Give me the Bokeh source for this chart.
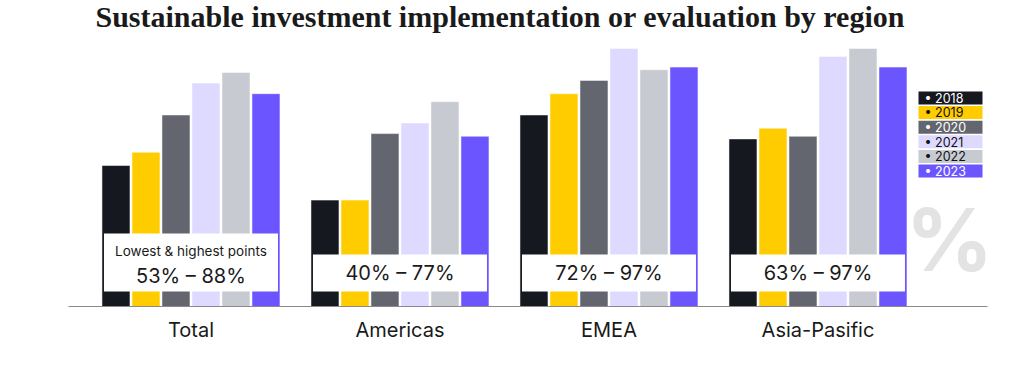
from bokeh.plotting import figure
from bokeh.models import Range1d, FixedTicker, ColumnDataSource, Label
from bokeh.core.properties import value
from bokeh.embed import file_html
from bokeh.resources import INLINE

# ---------------- data ----------------
regions = ["Total", "Americas", "EMEA", "Asia-Pasific"]
years = ["2018", "2019", "2020", "2021", "2022", "2023"]
v2018 = [53, 40, 72, 63]
v2019 = [58, 40, 80, 67]
v2020 = [72, 65, 85, 64]
v2021 = [84, 69, 97, 94]
v2022 = [88, 77, 89, 97]
v2023 = [80, 64, 90, 90]
series = [v2018, v2019, v2020, v2021, v2022, v2023]
colors = ["#16181f", "#ffcc00", "#63666e", "#dedaff", "#c8cad1", "#6b55ff"]
legend_text_colors = ["#ffffff", "#111111", "#ffffff", "#111111", "#111111", "#ffffff"]
title = "Sustainable investment implementation or evaluation by region"
box_caption = "Lowest & highest points"

# ---------------- layout helpers (page px -> data units) ----------------
FRAME_L, FRAME_R = 68, 987
FRAME_T, FRAME_B = 0, 306
X_LO = -0.586
PX_PER_X = 209.0
PX_PER_Y = 2.66
Y_HI = (FRAME_B - FRAME_T) / PX_PER_Y


def dx(px):
    return X_LO + (px - FRAME_L) / PX_PER_X


def dy(py):
    return (FRAME_B - py) / PX_PER_Y


W, H = 1006, 352
p = figure(width=W, height=H, output_backend="svg", toolbar_location=None,
           x_range=Range1d(X_LO, X_LO + (FRAME_R - FRAME_L) / PX_PER_X),
           y_range=Range1d(0, Y_HI),
           min_border_left=FRAME_L, min_border_right=W - FRAME_R,
           min_border_top=FRAME_T, min_border_bottom=H - FRAME_B)
p.outline_line_color = None
p.grid.visible = False
p.yaxis.visible = False
p.background_fill_color = "white"
p.border_fill_color = "white"

# title (as a text annotation above the bars)
p.add_layout(Label(x=dx(95), y=dy(16), text=title, text_font="Liberation Serif",
                   text_font_size="30px", text_font_style="bold", text_color="#1a1a1a",
                   text_align="left", text_baseline="alphabetic"))

# x axis
p.xaxis.ticker = FixedTicker(ticks=list(range(len(regions))))
p.xaxis.major_label_overrides = {i: r for i, r in enumerate(regions)}
p.xaxis.major_tick_line_color = None
p.xaxis.minor_tick_line_color = None
p.xaxis.axis_line_color = "#8a8a8a"
p.xaxis.axis_line_width = 1
p.xaxis.major_label_text_font = "Inter"
p.xaxis.major_label_text_font_size = "20px"
p.xaxis.major_label_text_color = "#1a1a1a"
p.xaxis.major_label_standoff = 5

# bars
step = 30 / PX_PER_X
bw = 28 / PX_PER_X
groups = list(range(len(regions)))
for i, (vals, col) in enumerate(zip(series, colors)):
    src = ColumnDataSource(dict(x=[g + (i - 2.5) * step for g in groups], top=vals))
    p.vbar(x="x", top="top", bottom=0, width=bw, source=src,
           fill_color=col, line_color="white", line_alpha=0.5, line_width=1)

# min-max boxes
half = 87 / PX_PER_X
mins = [min(s[g] for s in series) for g in groups]
maxs = [max(s[g] for s in series) for g in groups]
box_top = [dy(233) if g == 0 else dy(254) for g in groups]
p.quad(left=[g - half for g in groups], right=[g + half for g in groups],
       bottom=[dy(291)] * len(groups), top=box_top,
       fill_color="white", line_color=None)
p.text(x=groups, y=[dy(275) if g == 0 else dy(272) for g in groups],
       text=[f"{mins[g]}% \u2013 {maxs[g]}%" for g in groups],
       text_font=value("Inter"), text_font_size="20px", text_color="#1a1a1a",
       text_align="center", text_baseline="middle")
p.text(x=[0], y=[dy(250)], text=[box_caption],
       text_font=value("Inter"), text_font_size="13.5px", text_color="#1a1a1a",
       text_align="center", text_baseline="middle")

# legend (custom swatches with text)
leg_top = [91 + i * 14.6 for i in range(len(years))]
p.quad(left=[dx(918)] * len(years), right=[dx(982)] * len(years),
       top=[dy(t) for t in leg_top], bottom=[dy(t + 13) for t in leg_top],
       fill_color=colors, line_color=None)
p.text(x=[dx(924)] * len(years), y=[dy(t + 6.8) for t in leg_top],
       text=["\u2022 " + y for y in years], text_color=legend_text_colors,
       text_font=value("Inter"), text_font_size="12.5px",
       text_align="left", text_baseline="middle")

# big percent sign
p.text(x=[dx(949)], y=[dy(239)], text=["%"], text_font=value("Inter"),
       text_font_size="86px", text_font_style="bold", text_color="#e3e3e3",
       text_align="center", text_baseline="middle")

open("out.html", "w").write(file_html(p, INLINE))
